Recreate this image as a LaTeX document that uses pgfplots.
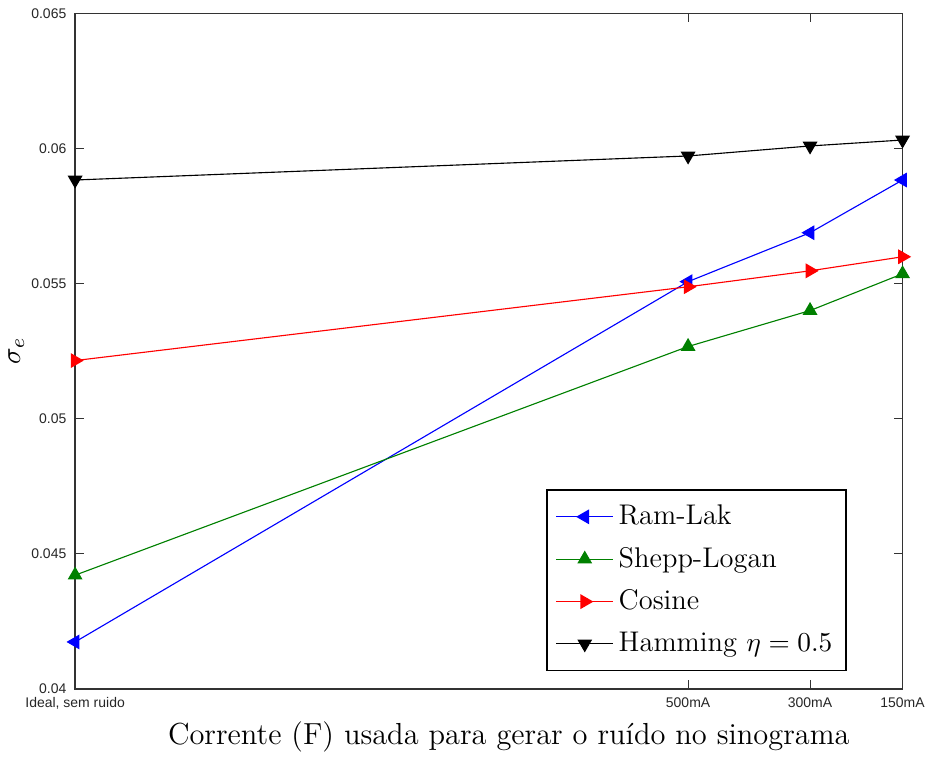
\documentclass[border=0pt]{standalone}
\usepackage{fontspec}
\usepackage{pgfplots}
\pgfplotsset{compat=1.18}
\newfontfamily\tickfont{Liberation Sans}
\definecolor{mgreen}{rgb}{0,0.5,0}
\begin{document}
\begin{tikzpicture}
\begin{axis}[
  scale only axis,
  width=331.6pt, height=270.8pt,
  xmin=0, xmax=1, ymin=0.04, ymax=0.065,
  xtick={0,0.7408,0.8882,1},
  xticklabels={{Ideal, sem ruido},500mA,300mA,150mA},
  ytick={0.04,0.045,0.05,0.055,0.06,0.065},
  yticklabels={0.04,0.045,0.05,0.055,0.06,0.065},
  scaled y ticks=false,
  tick label style={font=\tickfont\fontsize{5.6}{6}\selectfont, text=black!85},
  tick align=inside,
  major tick length=3.6pt,
  axis line style={line width=0.5pt, black!80},
  tick style={black!80, line width=0.4pt},
  xlabel={Corrente (F) usada para gerar o ruído no sinograma},
  ylabel={$\sigma_e$},
  xlabel style={font=\fontsize{12.2}{14}\selectfont, xshift=8pt, yshift=2pt},
  ylabel style={font=\fontsize{11}{13}\selectfont, yshift=-4pt},
  legend style={at={(0.9324,0.0266)}, anchor=south east, font=\fontsize{11.4}{13}\selectfont,
    draw=black, line width=0.5pt, row sep=3.5pt, inner xsep=3.5pt, inner ysep=4pt},
  legend cell align=left,
  legend image code/.code={
    \draw[mark repeat=2,mark phase=2] plot coordinates {(0cm,0cm) (0.4cm,0cm) (0.8cm,0cm)};
  },
  every axis plot/.append style={line width=0.45pt, mark size=3pt},
]
\addplot[blue, mark=triangle*, mark options={rotate=90, fill=blue, draw=blue}] coordinates {
  (0,0.04174) (0.7408,0.05507) (0.8882,0.05688) (1,0.05883)};
\addlegendentry{Ram-Lak}
\addplot[mgreen, mark=triangle*, mark options={fill=mgreen, draw=mgreen}] coordinates {
  (0,0.04421) (0.7408,0.05267) (0.8882,0.05400) (1,0.05536)};
\addlegendentry{Shepp-Logan}
\addplot[red, mark=triangle*, mark options={rotate=-90, fill=red, draw=red}] coordinates {
  (0,0.05215) (0.7408,0.05488) (0.8882,0.05547) (1,0.05599)};
\addlegendentry{Cosine}
\addplot[black, mark=triangle*, mark options={rotate=180, fill=black, draw=black}] coordinates {
  (0,0.05883) (0.7408,0.05972) (0.8882,0.06009) (1,0.06031)};
\addlegendentry{Hamming $\eta = 0.5$}
\end{axis}
\end{tikzpicture}
\end{document}
